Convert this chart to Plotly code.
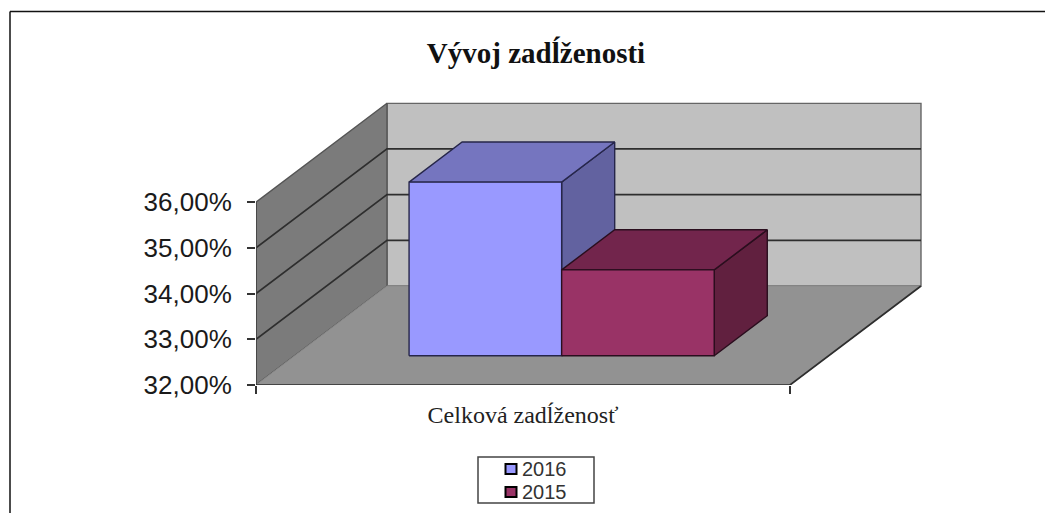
import plotly.graph_objects as go

title_text = "Vývoj zadĺženosti"
category_label = "Celková zadĺženosť"
series_names = ["2016", "2015"]
series_values = [35.80, 33.88]
value_ticks = [32, 33, 34, 35, 36]
value_tick_labels = ["32,00%", "33,00%", "34,00%", "35,00%", "36,00%"]

front_colors = ["#9999FF", "#993366"]
top_colors = ["#7575BF", "#72254C"]
side_colors = ["#6262A0", "#61203F"]
edge_colors = ["#26264a", "#2a0e1e"]

W, H = 1045, 513
PX_LEFT, PX_FRONT_RIGHT, PX_RIGHT = 256.0, 790.0, 922.0
PY_BASE, PY_TOP = 385.0, 102.5
PX_PER_VALUE = 45.7
DEPTH_PX_X, DEPTH_PX_Y = 131.0, 99.0
DX = DEPTH_PX_X / (PX_FRONT_RIGHT - PX_LEFT)
DY = DEPTH_PX_Y / PX_PER_VALUE
V0, V1 = value_ticks[0], value_ticks[-1]
GAP = 1.5
BAR_W = 1 / (len(series_values) + GAP)
D0, D1 = 0.295, 0.70


def proj(x, d, v):
    return x + d * DX, v + d * DY


def face(pts):
    xs, ys = zip(*[proj(*p) for p in pts])
    return list(xs) + [xs[0]], list(ys) + [ys[0]]


fig = go.Figure()


def poly(pts, fill, line, width=1.4, name=None):
    xs, ys = face(pts)
    fig.add_trace(go.Scatter(x=xs, y=ys, mode="lines", fill="toself", fillcolor=fill,
                             line=dict(color=line, width=width), showlegend=False,
                             name=name, hoverinfo="skip", cliponaxis=False))


def seg(pts, color="#2e2e2e", width=1.7):
    xs, ys = zip(*[proj(*p) for p in pts])
    fig.add_trace(go.Scatter(x=list(xs), y=list(ys), mode="lines",
                             line=dict(color=color, width=width), showlegend=False,
                             hoverinfo="skip", cliponaxis=False))


# walls and floor
poly([(0, 1, V0), (1, 1, V0), (1, 1, V1), (0, 1, V1)], "#C0C0C0", "#666666")
poly([(0, 0, V0), (0, 1, V0), (0, 1, V1), (0, 0, V1)], "#7B7B7B", "#555555")
poly([(0, 0, V0), (1, 0, V0), (1, 1, V0), (0, 1, V0)], "#929292", "#8a8a8a", 1)
for t in value_ticks[1:-1]:
    seg([(0, 0, t), (0, 1, t), (1, 1, t)])
seg([(0, 0, V0), (0, 0, V1)], "#444444", 1.7)
seg([(0, 0, V0), (1, 0, V0), (1, 1, V0)], "#2e2e2e", 1.7)

# bars
for i, v in enumerate(series_values):
    x0 = (GAP / 2 + i) * BAR_W
    x1 = x0 + BAR_W
    poly([(x1, D0, V0), (x1, D1, V0), (x1, D1, v), (x1, D0, v)], side_colors[i], edge_colors[i])
    poly([(x0, D0, v), (x1, D0, v), (x1, D1, v), (x0, D1, v)], top_colors[i], edge_colors[i])
    poly([(x0, D0, V0), (x1, D0, V0), (x1, D0, v), (x0, D0, v)], front_colors[i], edge_colors[i], name=series_names[i])

# legend box, swatches and labels
LEG_L, LEG_R, LEG_T, LEG_B = 478, 594, 457, 503
ROW_Y = [469, 492]
shapes = [
    dict(type="line", xref="paper", yref="paper", x0=10 / W, x1=1, y0=1 - 11.5 / H, y1=1 - 11.5 / H,
         line=dict(color="#111111", width=1.5)),
    dict(type="line", xref="paper", yref="paper", x0=10 / W, x1=10 / W, y0=0, y1=1 - 11.5 / H,
         line=dict(color="#111111", width=1.5)),
    dict(type="rect", xref="paper", yref="paper", x0=LEG_L / W, x1=LEG_R / W, y0=1 - LEG_B / H, y1=1 - LEG_T / H,
         line=dict(color="#444444", width=1.5), fillcolor="white"),
]
annotations = []
for name, c, ry in zip(series_names, front_colors, ROW_Y):
    shapes.append(dict(type="rect", xref="paper", yref="paper",
                       x0=505.5 / W, x1=516.5 / W, y0=1 - (ry + 5) / H, y1=1 - (ry - 5) / H,
                       line=dict(color="#000000", width=2), fillcolor=c))
    annotations.append(dict(text=name, xref="paper", yref="paper", x=521 / W, y=1 - ry / H,
                            xanchor="left", yanchor="middle", showarrow=False, borderpad=0,
                            font=dict(family="Liberation Sans", size=20, color="#333333")))

fig.update_layout(
    width=W, height=H,
    margin=dict(l=0, r=0, t=0, b=0),
    paper_bgcolor="white", plot_bgcolor="white",
    showlegend=False,
    font=dict(family="Liberation Sans", color="#1a1a1a"),
    title=dict(text="<b>" + title_text + "</b>", x=536 / W, y=1 - 53 / H,
               xanchor="center", yanchor="middle",
               font=dict(family="Liberation Serif", size=29, color="#111111")),
    xaxis=dict(domain=[PX_LEFT / W, PX_RIGHT / W], automargin=False,
               range=[0, (PX_RIGHT - PX_LEFT) / (PX_FRONT_RIGHT - PX_LEFT)],
               showgrid=False, zeroline=False, showline=False, ticks="",
               tickmode="array", tickvals=[0.5], ticktext=[category_label],
               tickfont=dict(family="Liberation Serif", size=24, color="#222222"),
               ticklabelstandoff=13,
               minor=dict(tickmode="array", tickvals=[0, 1], ticks="outside",
                          ticklen=8, tickwidth=1.5, tickcolor="#333333")),
    yaxis=dict(domain=[1 - PY_BASE / H, 1 - PY_TOP / H], automargin=False,
               range=[V0, V0 + (PY_BASE - PY_TOP) / PX_PER_VALUE],
               showgrid=False, zeroline=False, showline=False,
               tickmode="array", tickvals=value_ticks, ticktext=value_tick_labels,
               ticks="outside", ticklen=8, tickwidth=1.5, tickcolor="#333333",
               ticklabelstandoff=10,
               tickfont=dict(family="Liberation Sans", size=26, color="#1a1a1a")),
    shapes=shapes,
    annotations=annotations,
)

fig.write_html(
    "out.html",
    config=dict(displayModeBar=False),
    post_script="document.body.style.margin='0';document.documentElement.style.overflow='hidden';",
)
